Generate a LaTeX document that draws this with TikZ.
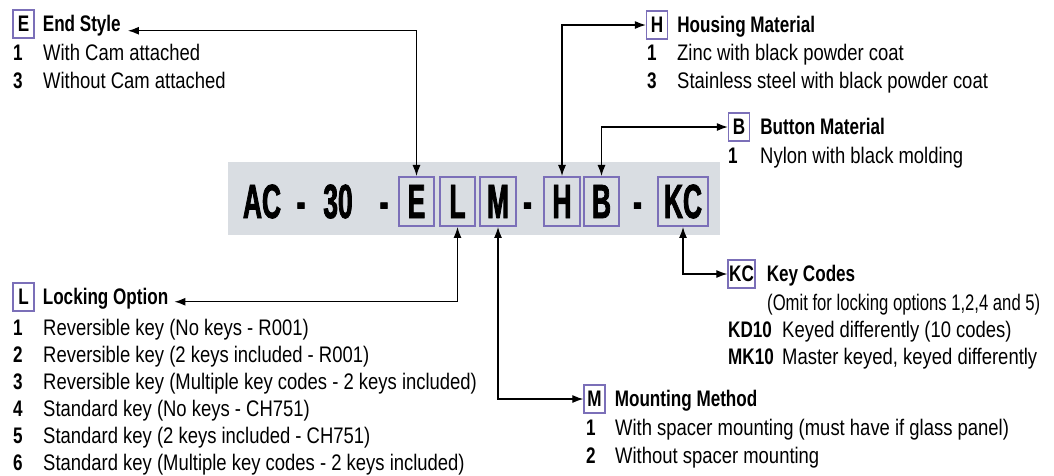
\documentclass[tikz,border=0pt]{standalone}
\usepackage{fontspec}
\newfontfamily\itemfont{Liberation Sans}[FakeStretch=0.82]
\newfontfamily\notefont{Liberation Sans}[FakeStretch=0.74]
\newfontfamily\headfont{Liberation Sans}[FakeStretch=0.76]
\newfontfamily\codefont{Liberation Sans}[FakeStretch=0.55, BoldFeatures={FakeBold=1.6}]
\usepackage{tikz}
\usetikzlibrary{arrows.meta,positioning}
\definecolor{keypurple}{HTML}{7B6FB8}
\definecolor{bandgray}{HTML}{D9DDE2}

\begin{document}
\begin{tikzpicture}[x=1pt, y=-1pt,
  band/.style={rectangle, fill=bandgray, minimum width=492pt, minimum height=73pt, inner sep=0pt},
  codetext/.style={anchor=base, inner sep=0pt, font=\codefont\bfseries\fontsize{48}{50}\selectfont},
  codebox/.style={codetext, rectangle, draw=keypurple, line width=2pt, minimum width=35pt, minimum height=49pt},
  keybox/.style={rectangle, draw=keypurple, fill=white, line width=1.3pt, minimum width=21pt, minimum height=28pt, inner sep=0pt, font=\headfont\bfseries\fontsize{22.5}{27}\selectfont},
  title/.style={inner sep=0pt, font=\headfont\bfseries\fontsize{22.5}{27}\selectfont},
  num/.style={anchor=base west, inner sep=0pt, font=\headfont\bfseries\fontsize{22.5}{27}\selectfont},
  entry/.style={anchor=base west, inner sep=0pt, font=\itemfont\fontsize{22.5}{27}\selectfont},
  link/.style={{Latex[length=11pt,width=8pt]}-{Latex[length=11pt,width=8pt]}, line width=1.2pt}
]
\useasboundingbox (0,0) rectangle (1054,475);

% part number
\node[band] (band) at (474,198.5) {};
\node[codetext] (cAC) at (262,218) {AC};
\node[codetext] (d1) at (301,218) {-};
\node[codetext] (c30) at (338,218) {30};
\node[codetext] (d2) at (384,218) {-};
\node[codebox] (bE) at (416.5,218) {E};
\node[codebox] (bL) at (457.5,218) {L};
\node[codebox, minimum width=36pt] (bM) at (498,218) {M};
\node[codetext] (d3) at (527.5,218) {-};
\node[codebox, minimum width=36pt] (bH) at (562,218) {H};
\node[codebox] (bB) at (601.5,218) {B};
\node[codetext] (d4) at (637.5,218) {-};
\node[codebox, minimum width=50pt] (bKC) at (683,218) {KC};

% end style
\node[keybox] (hE) at (23.5,24) {E};
\node[title, base right=8pt of hE] (tE) {End Style};
\node[num] (e1) at (13,60) {1};
\node[entry] (e1t) at (43,60) {With Cam attached};
\node[num] (e3) at (13,88) {3};
\node[entry] (e3t) at (43,88) {Without Cam attached};
\draw[link] ([xshift=7pt,yshift=1pt]tE.base east) -| (bE.north);

% housing material
\node[keybox] (hH) at (657,25) {H};
\node[title, base right=9pt of hH] (tH) {Housing Material};
\node[num] (h1) at (647,60) {1};
\node[entry] (h1t) at (677,60) {Zinc with black powder coat};
\node[num] (h3) at (647,88) {3};
\node[entry] (h3t) at (677,88) {Stainless steel with black powder coat};
\draw[link] (bH.north) |- (hH.west);

% button material
\node[keybox] (hB) at (739,127) {B};
\node[title, base right=10pt of hB] (tB) {Button Material};
\node[num] (b1) at (728,163) {1};
\node[entry] (b1t) at (760,163) {Nylon with black molding};
\draw[link] (bB.north) |- (hB.west);

% key codes
\node[keybox, minimum width=27pt] (hKC) at (741.5,274) {KC};
\node[title, base right=11pt of hKC] (tKC) {Key Codes};
\node[entry, font=\notefont\fontsize{22.5}{27}\selectfont] (kc0) at (767,310) {(Omit for locking options 1,2,4 and 5)};
\node[num] (kd) at (728,337) {KD10};
\node[entry] (kdt) at (782,337) {Keyed differently (10 codes)};
\node[num] (mk) at (728,364) {MK10};
\node[entry] (mkt) at (782,364) {Master keyed, keyed differently};
\draw[link] (bKC.south) |- (hKC.west);

% mounting method
\node[keybox] (hM) at (594.5,399) {M};
\node[title, base right=9pt of hM] (tM) {Mounting Method};
\node[num] (m1) at (586,435) {1};
\node[entry] (m1t) at (615,435) {With spacer mounting (must have if glass panel)};
\node[num] (m2) at (586,463) {2};
\node[entry] (m2t) at (615,463) {Without spacer mounting};
\draw[link] (bM.south) |- (hM.west);

% locking option
\node[keybox] (hL) at (23.5,297) {L};
\node[title, base right=8pt of hL] (tL) {Locking Option};
\foreach \txt [count=\i] in {Reversible key (No keys - R001),
    Reversible key (2 keys included - R001),
    Reversible key (Multiple key codes - 2 keys included),
    Standard key (No keys - CH751),
    Standard key (2 keys included - CH751),
    Standard key (Multiple key codes - 2 keys included)} {
  \node[num] (ln\i) at (13,{308+27*\i}) {\i};
  \node[entry] (lt\i) at (43,{308+27*\i}) {\txt};
}
\draw[link] ([xshift=6pt,yshift=3pt]tL.base east) -| (bL.south);
\end{tikzpicture}
\end{document}
